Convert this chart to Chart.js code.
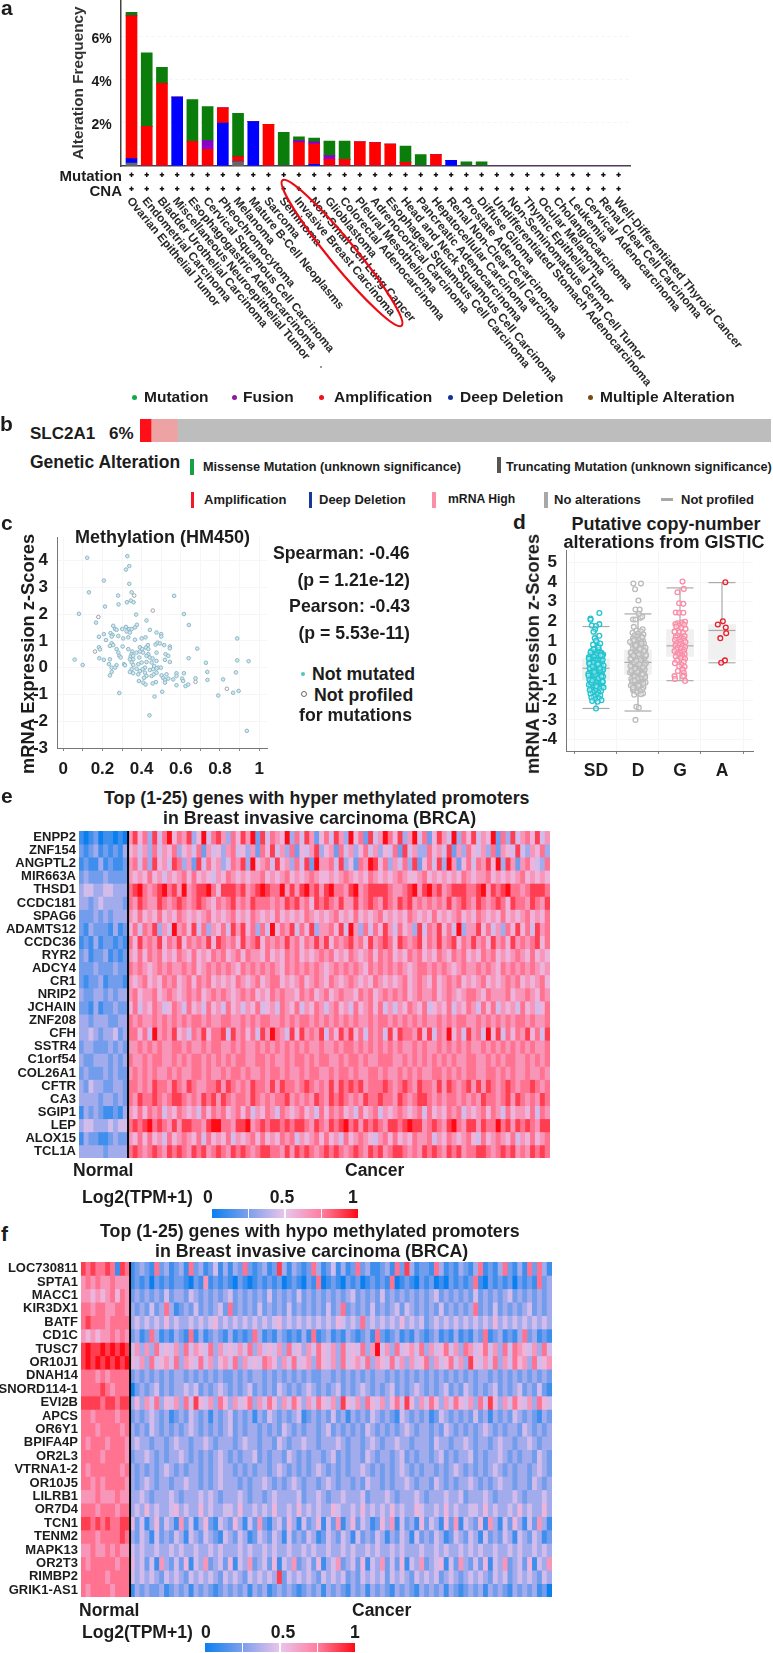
<!DOCTYPE html>
<html><head><meta charset="utf-8">
<script src="https://cdn.jsdelivr.net/npm/chart.js@4"></script>
<style>
html,body{margin:0;padding:0;background:#fff}
#page{position:relative;width:773px;height:1653px;overflow:hidden;font-family:"Liberation Sans",Arial,sans-serif;font-weight:bold;color:#1c1c1c}
canvas{position:absolute}
.t{position:absolute;white-space:nowrap;line-height:1}
.m{position:absolute}
</style></head><body><div id="page"></div>
<script>
// ---------- panel a ----------
const cancerTypes=["Ovarian Epithelial Tumor","Endometrial Carcinoma","Bladder Urothelial Carcinoma","Miscellaneous Neuroepithelial Tumor","Esophagogastric Adenocarcinoma","Cervical Squamous Cell Carcinoma","Pheochromocytoma","Melanoma","Mature B-Cell Neoplasms","Sarcoma","Seminoma","Invasive Breast Carcinoma","Non-Small Cell Lung Cancer","Glioblastoma","Colorectal Adenocarcinoma","Pleural Mesothelioma","Adrenocortical Carcinoma","Esophageal Squamous Cell Carcinoma","Head and Neck Squamous Cell Carcinoma","Pancreatic Adenocarcinoma","Hepatocellular Carcinoma","Renal Non-Clear Cell Carcinoma","Prostate Adenocarcinoma","Diffuse Glioma","Undifferentiated Stomach Adenocarcinoma","Non-Seminomatous Germ Cell Tumor","Thymic Epithelial Tumor","Ocular Melanoma","Cholangiocarcinoma","Leukemia","Cervical Adenocarcinoma","Renal Clear Cell Carcinoma","Well-Differentiated Thyroid Cancer"];
const truncating=[.14,0,0,0,0,0,0,.2,0,0,0,0,0,0,0,0,0,0,0,0,0,0,0,0,0,0,0,0,0,0,0,0,0];
const deepDeletion=[.2,0,0,3.21,0,0,2.0,0,2.06,0,0,0,.08,0,0,0,0,0,0,0,0,.26,0,0,0,0,0,0,0,0,0,0,0];
const amplification=[6.64,1.84,3.84,0,1.15,.78,.7,.23,0,1.94,0,1.09,.94,.31,.31,1.12,1.09,1.02,.17,0,.53,0,0,0,0,0,0,0,0,0,0,0,0];
const fusion=[0,0,0,0,0,.4,0,0,0,0,0,.09,.1,.17,0,0,0,0,0,0,0,0,0,0,0,0,0,0,0,0,0,0,0];
const mutation=[.17,3.42,.75,0,1.94,1.58,0,2.02,0,0,1.57,.18,.18,.68,.85,0,0,0,.76,.53,0,0,.19,.19,0,0,0,0,0,0,0,0,0];
const freqTicks=[2,4,6];
// ---------- panel b ----------
const oncoprintSegments=[1.74,4.2,94.06];
// ---------- panel c ----------
const methX=[.122,.327,.337,.32,.207,.337,.131,.349,.28,.566,.325,.345,.359,.282,.213,.08,.616,.372,.425,.167,.641,.255,.264,.272,.301,.32,.337,.349,.366,.376,.323,.34,.241,.252,.207,.182,.247,.281,.332,.306,.218,.366,.442,.5,.5,.476,.42,.4,.471,.481,.493,.515,.544,.544,.432,.422,.434,.391,.403,.247,.255,.238,.272,.303,.332,.182,.187,.281,.286,.293,.184,.207,.238,.352,.374,.391,.408,.434,.476,.522,.536,.349,.344,.357,.34,.357,.388,.425,.442,.456,.476,.519,.544,.233,.247,.272,.264,.31,.315,.349,.357,.383,.4,.425,.451,.464,.485,.498,.476,.459,.442,.417,.405,.391,.374,.349,.34,.357,.383,.417,.425,.412,.451,.462,.476,.247,.238,.502,.527,.51,.536,.519,.578,.578,.616,.561,.607,.612,.675,.386,.408,.42,.456,.473,.519,.578,.624,.638,.888,.684,.64,.888,.946,.728,.735,.881,.816,.736,.791,.867,.895,.937,.44,.286,.466,.505,.058,.099];
const methY=[4.1,4.16,3.79,3.66,3.25,3.13,2.81,2.81,2.69,2.68,2.44,2.5,2.44,2.36,2.28,2.01,2.0,1.98,1.76,1.68,1.59,1.56,1.44,1.41,1.44,1.52,1.44,1.44,1.5,1.6,1.35,1.31,1.29,1.22,1.25,1.15,1.16,1.18,1.13,1.09,1.03,1.04,1.41,1.25,1.16,1.31,1.13,1.09,.86,.93,.9,.84,.79,.72,.84,.75,.69,.76,.69,.91,.84,.81,.69,.79,.69,.76,.68,.56,.44,.38,.35,.29,.31,.6,.56,.6,.56,.5,.56,.5,.44,.5,.41,.44,.31,.31,.38,.44,.38,.34,.25,.29,.21,.13,0,.09,0,.13,.09,.19,.1,.13,.19,.21,.19,.06,0,0,-.03,-.06,-.09,0,-.06,-.13,-.04,-.06,-.16,-.21,-.25,-.19,-.31,-.38,-.31,-.25,-.19,-.16,-.29,-.29,-.25,-.38,-.41,-.46,-.21,-.31,-.21,-.44,-.41,-.5,-.4,-.5,-.56,-.63,-.59,-.54,-.56,-.66,-.69,-.63,1.09,.71,.35,.27,.24,.18,-.16,-.18,-.44,-.46,-1.04,-.94,-.87,-2.36,-1.78,-.95,-1.08,-.9,.3,.1];
const notProfX=[.362,.457,.179,.162,.675,.835];
const notProfY=[2.69,2.13,1.89,.6,-.53,-.79];
const methXTicks=[0,.1,.2,.3,.4,.5,.6,.7,.8,.9,1];
const methYTicks=[4,3,2,1,0,-1,-2,-3];
// ---------- panel d ----------
const cnaGroups=["SD","D","G","A"];
const boxQ1=[-.97,-.69,.22,.07],boxQ3=[.1,.54,1.59,1.84],boxMedian=[-.38,-.08,.76,1.54],whiskerLow=[-2.42,-2.55,-1.01,-.1],whiskerHigh=[1.74,2.38,3.7,3.97];
const sdOffset=[.08,-.13,-.13,.08,-.1,0,-.02,-.06,.08,-.03,.02,-.07,.05,-.02,.07,-.12,-.04,.04,.13,-.09,0,.1,-.14,-.05,.06,.12,-.11,-.02,.03,.09,-.08,.14,-.13,-.04,.05,.11,-.1,0,.07,-.06,.13,-.12,.02,.09,-.03,-.14,.05,.12,-.08,0,.1,-.11,-.05,.04,.14,-.13,-.01,.08,-.07,.12,-.09,.02,.06,-.12,-.03,.1,-.14,.04,.13,-.06,.01,.08,-.1,.11,-.04,-.13,.05,.14,-.07,0,.09,-.11,-.02,.12,-.08,.06,-.13,.03,.1,-.05,-.11,.07,-.02,.13,-.09,.04,-.06,.06,0,.1,-.13,-.06,.06,0,.13,.17,-.17,.16,-.16,.18,-.15,.15,-.18,.17,-.16,.16,-.17,.18,-.15,.15,-.16,.17,-.18,.16,-.17,.03,-.08,.1,-.01,.06,-.11,.01,.09,-.04,.13,-.09,.05,.11,-.06];
const sdValue=[2.43,2.15,2.08,1.86,1.79,1.77,1.6,1.47,1.27,1.15,.95,.82,.75,.62,.55,.48,.44,.4,.37,.34,.3,.25,.22,.2,.15,.12,.08,.05,.02,0,-.03,-.06,-.08,-.11,-.14,-.17,-.2,-.23,-.26,-.28,-.31,-.34,-.36,-.39,-.42,-.44,-.47,-.5,-.53,-.55,-.58,-.6,-.63,-.65,-.68,-.71,-.73,-.76,-.78,-.81,-.84,-.86,-.89,-.92,-.94,-.97,-.99,-1.02,-1.05,-1.07,-1.1,-1.13,-1.15,-1.18,-1.21,-1.24,-1.27,-1.3,-1.33,-1.37,-1.41,-1.45,-1.5,-1.54,-1.58,-1.62,-1.67,-1.72,-1.76,-1.81,-1.86,-1.9,-1.95,-2.0,-2.04,-2.08,.58,.68,1.02,.88,.42,-.1,-.5,-2.42,.4,.32,.18,.05,-.09,-.24,-.38,-.52,-.66,-.8,-.95,-1.08,-1.22,-1.35,-1.48,.25,-.15,-.45,-.75,-1.05,.1,-.12,-.29,-.47,-.69,-.88,-1.11,-1.29,-.37,-.57,-.79,-1.0,-.18,.28];
const dOffset=[-.11,.07,-.07,.01,-.06,.04,-.12,-.06,.06,.1,.02,-.1,.11,-.04,.07,-.13,0,.13,-.08,.05,-.02,.1,-.12,.03,-.06,.12,-.1,.08,-.03,.14,-.14,.01,.06,-.08,.11,-.05,.03,-.12,.09,0,.13,-.1,.05,-.03,-.14,.08,.12,-.07,.02,-.11,.1,-.04,.14,-.13,.06,0,-.09,.11,.03,-.06,.13,-.12,.07,-.02,.09,-.14,.04,.12,-.08,0,.1,-.11,.05,-.04,.14,-.13,.08,.01,-.07,.12,-.1,.03,.06,-.05,.13,-.12,0,.09,-.08,.11,-.14,.04,-.02,.07,-.1,.13,-.06,.02,.1,-.12,.05,-.03,.12,-.09,.08,-.13,0,.06,-.05,.11,-.11,.03,-.07,.09,.01,-.08,.05,-.1,.07,-.04,.02,-.06,-.1,.08,-.06,.17,-.17,.18,-.16,.19,-.18,.16,-.19,.17,-.16,.18,-.17,.19,-.18,.16,-.16,.17,-.19,.18,-.17,.04,-.09,.12,-.02,.07,-.13,.01,.1,-.05,.14,-.11,.06,.03,-.07,.09,-.01,.13,-.12,.05,-.04,.11,-.08,.02,.08,-.14,.15,-.15,.06,-.03,.1];
const dValue=[3.92,3.92,3.63,3.06,2.6,2.6,2.1,2.1,2.18,2.24,2.38,1.72,1.6,1.54,1.5,1.42,1.38,1.33,1.3,1.26,1.22,1.18,1.14,1.1,1.06,1.02,.98,.95,.92,.88,.85,.82,.78,.75,.72,.68,.65,.62,.58,.55,.52,.48,.45,.42,.38,.35,.32,.28,.25,.22,.18,.15,.12,.08,.05,.02,-.02,-.05,-.08,-.12,-.15,-.18,-.22,-.25,-.28,-.32,-.35,-.38,-.42,-.45,-.48,-.52,-.55,-.58,-.62,-.65,-.68,-.72,-.75,-.78,-.82,-.85,-.88,-.92,-.95,-.98,-1.02,-1.05,-1.08,-1.12,-1.15,-1.18,-1.22,-1.26,-1.3,-1.34,-1.38,-1.42,-1.46,-1.5,-1.55,-1.6,-1.66,-1.72,.7,.4,.1,-.3,-.6,-.9,1.0,.6,.2,-.1,-.5,-.8,-1.2,-1.45,-1.7,-2.33,-2.38,-3.0,1.05,.88,.72,.55,.38,.22,.06,-.11,-.27,-.44,-.6,-.77,-.93,-1.1,-1.26,.3,.1,-.2,-.5,-.85,.95,.66,.43,.17,-.07,-.33,-.56,-.83,-1.03,-1.27,1.2,.8,.5,.27,.03,-.17,-.4,-.64,-.9,-1.16,-1.36,.6,.0,-.7,-1.0,.33];
const gOffset=[.06,.09,-.06,-.02,.08,-.1,-.02,.08,.12,.04,-.06,-.11,.05,.1,-.03,-.09,.03,.13,-.13,-.01,.07,-.06,.11,-.1,.02,.08,-.04,-.12,.09,.01,.13,-.08,.04,-.02,-.11,.06,.12,-.05,.03,-.09,.1,-.13,.07,0,-.06,.11,-.03,.05,-.1,.08,.02,.12,-.07,.09,-.12,.04,-.02,.11,.07,-.05,.09,-.13,.1,.07,-.12,.12];
const gValue=[4.02,3.65,3.48,2.92,2.89,2.45,2.44,2.44,1.98,1.94,1.9,1.87,1.85,1.83,1.78,1.74,1.68,1.62,1.48,1.45,1.42,1.28,1.25,1.2,1.15,1.12,1.08,1.05,1.02,.98,.95,.9,.85,.82,.78,.74,.7,.66,.62,.58,.55,.5,.46,.42,.38,.34,.3,.26,.22,.18,.14,.1,.02,-.05,-.12,-.2,-.28,-.3,-.45,-.52,-.6,-.78,-.75,-.8,-.92,-1.02];
const aOffset=[.08,.02,-.1,.09,.1,-.04,.07,-.02];
const aValue=[3.99,2.01,1.84,1.69,1.4,1.15,.02,-.1];
const dYTicks=[5,4,3,2,1,0,-1,-2,-3,-4];
// ---------- heatmap colour stops (value, r,g,b) ----------
const heatStopValues=[0,.25,.5,.75,1];
const heatStopColors=[[10,128,240],[127,159,236],[232,196,236],[255,127,159],[255,10,20]];
const heatDigitMax=9;
// ---------- panel e ----------
const hyperGenes=["ENPP2","ZNF154","ANGPTL2","MIR663A","THSD1","CCDC181","SPAG6","ADAMTS12","CCDC36","RYR2","ADCY4","CR1","NRIP2","JCHAIN","ZNF208","CFH","SSTR4","C1orf54","COL26A1","CFTR","CA3","SGIP1","LEP","ALOX15","TCL1A"];
const hyperNormal=["1012011010","2123121213","1211312112","2322232222","3443344333","3323433332","2223232333","2132221312","1213122121","2312231212","2223222322","2122312221","3223323233","2213122322","3323332233","3343233423","2332223232","3223332323","2322232322","3243322332","3333233232","1323211213","3443334344","1322112322","3333323333"];
const hyperCancer=[
"6857384795 7683594786 3758692847 6593748625 7486395728 4697583694 7258649375 8465927384 675846",
"5646374657 3564726453 6745362758 4637254683 5627463574 6354728463 3756482637 5463726548 436573",
"6747385648 7362847563 4768395674 8563748296 6748352769 8573647382 5748396257 4768593862 675437",
"6565756465 6757565465 7656566756 5675656765 5656765657 6565676556 7565656576 5667565656 756565",
"7897678978 6967889758 8878678987 7968689786 8977689678 8887667896 8978678887 7896878977 678887",
"7687668767 8767876576 7867687776 7687867587 8768668678 7687687867 6767686787 6876787587 768768",
"6575657565 7656567565 6756576565 7565657656 5675657565 6756565765 6575656756 5765657565 675657",
"5747683649 6758473657 4868573749 5768475836 6758496374 7586475638 4768574936 6857463758 574867",
"7586768576 8576768587 6758678576 7686757686 8576786758 6787587678 5768678576 8675867586 767857",
"6575767565 7657565767 5675766575 6576756567 6756576567 5767565767 5657657675 6576756567 657565",
"7676567676 6767567676 7657676767 6576767676 5676767657 6767676567 7676765676 6767657676 767656",
"6567565767 5675767565 6576567567 7565675676 5765676565 7656567567 6575676756 5675656767 565675",
"6756675676 5676756767 6567675657 6766576756 7567665767 5676767567 6675676567 7657666756 676576",
"5746576457 6475647564 7564657456 4765746576 4675647567 5746465765 7456574657 6475746564 756457",
"7676676767 6767767667 7667676776 6767677676 7676767667 6776767676 7667676776 6767676767 767667",
"7757496768 5647685778 4867574869 7648586768 4758685747 6748587768 5847695748 6749584757 685748",
"6676767667 7676676776 6767667676 7676767667 6676776767 6767676676 7667676767 6676767676 767667",
"7667677667 6767767676 7677667767 6676776767 7667677676 6777667676 7676767667 7667676776 676767",
"6767676676 7667767667 6776766767 7676676776 6767767667 7676676767 6677676767 7667767676 676676",
"7767687768 7687667786 8767687768 6877678767 6868787867 7787678768 7768687678 6868767876 778767",
"7687787678 8767687868 7677687676 7786767687 6878767687 7877687678 8767677676 7687767868 767687",
"6575767465 7656475767 5675746576 4765675647 5767564756 7465676567 4756576746 5675764756 657476",
"7878978768 6887768997 7688967878 8787887687 6878978687 8768878988 6787689768 8687797868 787688",
"6575756475 6765747565 7465675756 5767465675 7564756765 4675756576 6746576567 5475676574 657567",
"7876787687 8768786787 6878767887 7686878767 8787678768 7867887676 8787687867 7887678786 768787"];
// ---------- panel f ----------
const hypoGenes=["LOC730811","SPTA1","MACC1","KIR3DX1","BATF","CD1C","TUSC7","OR10J1","DNAH14","SNORD114-1","EVI2B","APCS","OR6Y1","BPIFA4P","OR2L3","VTRNA1-2","OR10J5","LILRB1","OR7D4","TCN1","TENM2","MAPK13","OR2T3","RIMBP2","GRIK1-AS1"];
const hypoNormal=["8787787187","6767667666","6656567576","7767766776","7877767777","6565667676","8988989898","8989898989","7776767777","7777876777","8888788788","7767777677","7776777767","7677767776","7777677776","7677777767","7767677776","6667666766","7776777677","8878787788","7776777787","6676676766","7677777677","7777767777","7677776777"];
const hypoCancer=[
"1232172312 3172312413 1327212312 8313212731 2413127231 1231728312 2173121321 3712137213 172731",
"1212021212 2102161212 1021012121 2012102170 1210212012 1217012102 1201021212 7102121202 121723",
"2323232423 3243232323 4232323242 3232423232 3232342323 2423232323 2342323232 4232323423 232323",
"3232423731 2324232342 7232324232 3242323232 4237232324 2323424323 2324232323 7232423232 342323",
"3434343534 3343434534 3434343434 5343434343 4354343734 3434353434 2343434343 4343534343 434343",
"2312731213 2171312321 3121273121 3212131712 3121321231 7212312132 1231213121 3271231213 723121",
"4636374546 3746547364 5464736454 6374536475 4637454736 9463745647 3645746376 4574637476 546374",
"5463745647 3654746356 4736454765 3647456375 4637456473 6547463645 7364574638 5464736475 637456",
"2323232323 3232323232 2323233232 3232323223 3232323232 3323232323 2323232323 2332323232 323232",
"0232342323 3434232343 2323423232 4323234323 2342323432 3234232343 2323423243 2323423234 232421",
"3536473546 3748546375 3645736475 3647536475 4638546375 4635748536 4753647546 3748536475 463754",
"2323432312 3243231323 4232313243 2323412323 2423132324 3232143232 3124323232 4231323243 232132",
"3232432323 2343232323 4232332323 2432323323 4232323243 2323234323 3232432323 2343232332 432323",
"3433233234 3323343233 3234332332 4323343323 3343233234 3233433233 3243323343 2332343323 343233",
"2334323233 4323232343 2323342323 3243232332 3423233243 2332342323 3234232334 2323343232 332432",
"3232323432 3233232343 3232323323 4323232343 2323233432 3232343232 3323234323 2323432323 323432",
"3234323323 3433232343 3323233432 3234323323 4323323243 3232334323 3243232334 3232343323 324323",
"3343233343 2333434323 3343233234 3333423343 2334333423 3343233343 2333433423 3343233343 233343",
"3435343345 3433534334 4353343435 3343534343 3543343534 3435343354 3343534334 4353433435 343353",
"5241352431 6241352143 2531426213 4253142351 4261352431 2536142315 2431526143 2516314253 142631",
"3243142324 3143243214 3243124324 3142324312 4324314232 4313243142 3243124324 3142324314 324312",
"4343343343 4334334343 3343433434 3343343433 4334343343 4334343334 3343433434 3433433434 334343",
"5342416324 2514362342 5143623425 1436234251 3462342514 3624251436 2345142632 4251436234 251436",
"4343432434 3243434324 3432434343 8243434324 3434232434 3424343243 4342343234 3432434234 343243",
"1323223123 2313232123 2323132312 3232123231 3232132313 2321323213 2323132123 2313232132 323120"];
const dataLabelsAxis=["Mutation","CNA"];

// ---------- helpers ----------
Chart.defaults.animation=false;
Chart.defaults.responsive=false;
Chart.defaults.font.family='"Liberation Sans",Arial,sans-serif';
Chart.defaults.font.weight='bold';
Chart.defaults.color='#1c1c1c';
Chart.defaults.plugins.legend.display=false;
Chart.defaults.plugins.tooltip.enabled=false;
const page=document.getElementById('page');
function T(s,x,y,size,anchor,rot,color){
  const d=document.createElement('div');d.className='t';d.textContent=s;
  d.style.left=x+'px';d.style.top=y+'px';d.style.fontSize=size+'px';
  if(color)d.style.color=color;
  const tx=anchor==='r'?'-100%':anchor==='c'?'-50%':'0';
  d.style.transform=`translate(${tx},-50%)`+(rot?` rotate(${rot}deg)`:'');
  page.appendChild(d);
}
function M(x,y,w,h,color,round){
  const d=document.createElement('div');d.className='m';
  d.style.cssText+=`left:${x}px;top:${y}px;width:${w}px;height:${h}px;background:${color};`+(round?'border-radius:50%;':'');
  page.appendChild(d);return d;
}
function canvasAt(x,y,w,h){
  const c=document.createElement('canvas');c.width=w;c.height=h;
  c.style.left=x+'px';c.style.top=y+'px';c.style.width=w+'px';c.style.height=h+'px';
  page.appendChild(c);return c.getContext('2d');
}
function noPad(s){s.paddingTop=s.paddingBottom=s.paddingLeft=s.paddingRight=0}
const setW=w=>s=>{s.width=w;noPad(s)};
const setH=h=>s=>{s.height=h;noPad(s)};
const fixedTicks=a=>s=>{s.ticks=a.map(v=>({value:v}))};
function heatColor(v){
  let i=0;while(i<heatStopValues.length-2&&v>heatStopValues[i+1])i++;
  const f=(v-heatStopValues[i])/(heatStopValues[i+1]-heatStopValues[i]);
  const a=heatStopColors[i],b=heatStopColors[i+1];
  return `rgb(${a.map((c,k)=>Math.round(c+(b[k]-c)*f)).join(',')})`;
}

// ---------- panel a chart ----------
(function(){
  const ctx=canvasAt(0,0,773,400);
  const series=[[truncating,'#666666'],[deepDeletion,'#0000ff'],[amplification,'#ff0000'],[fusion,'#8a00c8'],[mutation,'#0a7d0a']];
  const labelsPlugin={id:'aLabels',afterDraw(ch){
    const c=ch.ctx,x=ch.scales.x;
    c.save();
    cancerTypes.forEach((n,i)=>{
      const px=x.getPixelForValue(i);
      c.strokeStyle='#111';c.lineWidth=1.5;
      [174.7,188.7].forEach(y=>{c.beginPath();c.moveTo(px-2.2,y);c.lineTo(px+2.2,y);c.moveTo(px,y-2.2);c.lineTo(px,y+2.2);c.stroke();});
      c.save();c.translate(px-2.5,199);c.rotate(50.2*Math.PI/180);
      c.font='bold 11.75px "Liberation Sans"';c.fillStyle='#2a2a2a';c.textBaseline='middle';c.textAlign='left';
      c.fillText(n,0,0);c.restore();
    });
    c.strokeStyle='#ee0a14';c.lineWidth=2.2;c.beginPath();
    c.ellipse(342,253,94,13,50.7*Math.PI/180,0,2*Math.PI);c.stroke();
    c.restore();
  }};
  new Chart(ctx,{type:'bar',data:{datasets:series.map(s=>({data:s[0].map((v,i)=>({x:i,y:v})),backgroundColor:s[1],barThickness:11,borderWidth:0}))},
    options:{layout:{padding:{right:143,top:0}},scales:{
      x:{type:'linear',offset:false,stacked:true,min:-.71,max:32.75,ticks:{display:false},grid:{display:false},border:{color:'#444',width:1.5},afterFit:setH(400-166)},
      y:{stacked:true,min:0,max:7.72,afterBuildTicks:fixedTicks(freqTicks),afterFit:setW(120.7),
         ticks:{font:{size:14,weight:'bold'},padding:9,labelOffset:2.5,callback:v=>v+'%'},
         grid:{color:'#f4f4f4',drawTicks:false,tickLength:0},border:{color:'#444',width:1.5,dash:[3,3]}}}},
    plugins:[labelsPlugin]});
})();
T('Alteration Frequency',78,83,15.3,'c',-90,'#333');
T('a',1,7,21,'l');
T(dataLabelsAxis[0],122,175,15,'r');
T(dataLabelsAxis[1],122,190,15,'r');
M(320,366,2,2,'#777',true);
[['Mutation',134,144,'#13a84a'],['Fusion',234,243,'#8c1a9c'],['Amplification',321,334,'#f0101a'],['Deep Deletion',450,460,'#12319c'],['Multiple Alteration',590,600,'#7a4a12']].forEach(r=>{
  M(r[1]-2.5,394.5,5,5,r[3],true);T(r[0],r[2],397,15.5,'l');
});

// ---------- panel b chart ----------
(function(){
  const ctx=canvasAt(140,419,631,23);
  const colors=['#ff1018','#eda3a3','#bdbdbd'];
  new Chart(ctx,{type:'bar',data:{labels:['SLC2A1'],datasets:oncoprintSegments.map((v,i)=>({data:[v],backgroundColor:colors[i],barPercentage:1,categoryPercentage:1,borderWidth:0}))},
    options:{indexAxis:'y',scales:{x:{display:false,stacked:true,min:0,max:100},y:{display:false,stacked:true}}}});
})();
T('b',0,423,21,'l');
T('SLC2A1',30,433,17,'l');T('6%',109,433,17,'l');
T('Genetic Alteration',30,463,17.5,'l');
M(190,459,3.5,16,'#18a048');T('Missense Mutation (unknown significance)',203,467,12.7,'l');
M(497,457,3.5,16,'#555');T('Truncating Mutation (unknown significance)',506,467,12.7,'l');
M(190.5,492,3.5,16,'#f5162a');T('Amplification',204,499,13,'l');
M(308.5,492,3.5,16,'#16379c');T('Deep Deletion',319,499,13,'l');
M(432,492,3.5,16,'#fb8fa8');T('mRNA High',448,499,12.2,'l');
M(544,492,3.5,16,'#a8a8a8');T('No alterations',554,499,13,'l');
M(661,498,12,2.5,'#a8a8a8');T('Not profiled',681,499,13,'l');

// ---------- panel c chart ----------
(function(){
  const ctx=canvasAt(0,530,300,250);
  new Chart(ctx,{type:'scatter',data:{datasets:[
    {data:methX.map((x,i)=>({x,y:methY[i]})),backgroundColor:'#d6e8ee',borderColor:'#8ab8c8',borderWidth:1,pointRadius:1.8},
    {data:notProfX.map((x,i)=>({x,y:notProfY[i]})),backgroundColor:'#ffffff',borderColor:'#a0a0a0',borderWidth:1,pointRadius:1.8}]},
    options:{layout:{padding:{top:7,right:33}},scales:{
      x:{min:-.032,max:1.04,afterBuildTicks:fixedTicks(methXTicks),afterFit:setH(250-218),
         ticks:{font:{size:17,weight:'bold'},padding:8,maxRotation:0,minRotation:0,autoSkip:false,callback:(v,i)=>i%2?'':String(v)},
         grid:{color:'#f6f6f6',tickLength:3,tickColor:'#888'},border:{color:'#777',width:1}},
      y:{min:-3,max:4.875,afterBuildTicks:fixedTicks(methYTicks),afterFit:setW(57),
         ticks:{autoSkip:false,font:{size:17,weight:'bold'},padding:9},
         grid:{color:'#f6f6f6',drawTicks:false,tickLength:0},border:{color:'#777',width:1}}}}});
})();
T('c',1,522,21,'l');
T('Methylation (HM450)',75,537,18,'l');
T('mRNA Expression z-Scores',28,654,18.3,'c',-90);
T('Spearman: -0.46',273,554,17.7,'l');
T('(p = 1.21e-12)',410,581,17.7,'r');
T('Pearson: -0.43',410,607,17.7,'r');
T('(p = 5.53e-11)',410,634,17.7,'r');
M(301,672,4,4,'#4fc8b4',true);T('Not mutated',312,675,17.7,'l');
M(301,691,4,4,'#fff',true).style.border='1px solid #666';T('Not profiled',314,696,17.7,'l');
T('for mutations',299,716,17.7,'l');

// ---------- panel d chart ----------
(function(){
  const ctx=canvasAt(520,545,253,235);
  const groups=[[sdOffset,sdValue,'#21c4cf'],[dOffset,dValue,'#bbbbbb'],[gOffset,gValue,'#f98ca6'],[aOffset,aValue,'#e8202a']];
  const ds=[{type:'bar',order:10,data:boxQ1.map((q,i)=>({x:i+1,y:[q,boxQ3[i]]})),backgroundColor:'#f0f0f0',barThickness:27,borderWidth:0,grouped:false}];
  groups.forEach((g,k)=>ds.push({type:'scatter',order:4-k,data:g[0].map((o,i)=>({x:k+1+o,y:g[1][i]})),backgroundColor:'rgba(255,255,255,.35)',borderColor:g[2],borderWidth:1.3,pointRadius:2.4}));
  const whiskers={id:'whiskers',afterDatasetDraw(ch,args){
    if(args.index!==0)return;
    const c=ch.ctx,x=ch.scales.x,y=ch.scales.y;
    c.save();c.strokeStyle='#aaaaaa';c.lineWidth=1.2;
    boxQ1.forEach((q,i)=>{
      const p=x.getPixelForValue(i+1);
      const seg=(a,b,e,f)=>{c.beginPath();c.moveTo(a,b);c.lineTo(e,f);c.stroke();};
      seg(p,y.getPixelForValue(whiskerLow[i]),p,y.getPixelForValue(q));
      seg(p,y.getPixelForValue(boxQ3[i]),p,y.getPixelForValue(whiskerHigh[i]));
      [whiskerLow[i],whiskerHigh[i],boxMedian[i]].forEach(v=>seg(p-13.5,y.getPixelForValue(v),p+13.5,y.getPixelForValue(v)));
    });
    c.restore();
  }};
  new Chart(ctx,{type:'scatter',data:{datasets:ds},plugins:[whiskers],
    options:{layout:{padding:{top:5,right:20}},scales:{
      x:{type:'linear',offset:false,min:.286,max:4.738,afterBuildTicks:fixedTicks([1,2,3,4]),afterFit:setH(235-206),
         ticks:{font:{size:17.5,weight:'bold'},padding:7,maxRotation:0,minRotation:0,autoSkip:false,callback:(v,i)=>cnaGroups[i]},
         grid:{color:'#f6f6f6',tickLength:3,tickColor:'#888'},border:{color:'#777',width:1}},
      y:{min:-4.58,max:5.61,afterBuildTicks:fixedTicks(dYTicks),afterFit:setW(46),
         ticks:{autoSkip:false,font:{size:17,weight:'bold'},padding:9},
         grid:{color:'#f6f6f6',drawTicks:false,tickLength:0},border:{color:'#777',width:1}}}}});
})();
T('d',513,521,21,'l');
T('Putative copy-number',666,524,18,'c');
T('alterations from GISTIC',664,542,18,'c');
T('mRNA Expression z-Scores',533,654,18.3,'c',-90);

// ---------- heatmaps ----------
function heatmap(box,plot,genes,normal,cancer){
  const ctx=canvasAt(box[0],box[1],box[2],box[3]);
  const rows=genes.map((g,r)=>(normal[r]+cancer[r].replace(/ /g,'')).split('').map(Number));
  const cols=rows[0].map((_,i)=>i);
  const nNormal=normal[0].length;
  const sep={id:'sep',afterDatasetsDraw(ch){
    const x=ch.scales.x,c=ch.ctx,p=(x.getPixelForValue(nNormal-1)+x.getPixelForValue(nNormal))/2;
    c.save();c.fillStyle='#000';c.fillRect(p-1,ch.chartArea.top,2,ch.chartArea.bottom-ch.chartArea.top);c.restore();
  }};
  new Chart(ctx,{type:'bar',plugins:[sep],data:{labels:cols,datasets:rows.map((row,r)=>({
      data:row.map(()=>[r,r+1]),backgroundColor:row.map(d=>heatColor(d/heatDigitMax)),borderWidth:0,barPercentage:1,categoryPercentage:1,grouped:false}))},
    options:{layout:{padding:{top:plot[1]-box[1],right:box[0]+box[2]-plot[2]}},scales:{
      x:{ticks:{display:false},grid:{display:false},border:{display:false},afterFit:setH(box[1]+box[3]-plot[3])},
      y:{reverse:true,min:0,max:25,afterBuildTicks:fixedTicks(genes.map((_,i)=>i+.5)),afterFit:setW(plot[0]-box[0]),
         ticks:{autoSkip:false,font:{size:13,weight:'bold'},padding:3,callback:(v,i)=>genes[i]},
         grid:{display:false,drawTicks:false,tickLength:0},border:{display:false}}}}});
}
function colorbar(x,y,w,h){
  const gap=1.2,seg=(w-3*gap)/4;
  for(let i=0;i<4;i++){
    M(x+i*(seg+gap),y,seg,h,`linear-gradient(to right,${heatColor(heatStopValues[i])},${heatColor(heatStopValues[i+1])})`);
  }
}
heatmap([0,825,560,340],[79,831,550,1158],hyperGenes,hyperNormal,hyperCancer);
T('e',1,795,21,'l');
T('Top (1-25) genes with hyper methylated promoters',104,799,17.8,'l');
T('in Breast invasive carcinoma (BRCA)',163,819,17.8,'l');
T('Normal',73,1171,17.5,'l');T('Cancer',345,1171,17.5,'l');
T('Log2(TPM+1)',82,1198,17.6,'l');T('0',208,1198,17.6,'c');T('0.5',282,1198,17.6,'c');T('1',353,1198,17.6,'c');
colorbar(212,1209,146,9);

heatmap([0,1256,560,346],[81,1262,552,1597],hypoGenes,hypoNormal,hypoCancer);
T('f',1,1233,21,'l');
T('Top (1-25) genes with hypo methylated promoters',100,1232,17.8,'l');
T('in Breast invasive carcinoma (BRCA)',155,1252,17.8,'l');
T('Normal',79,1611,17.5,'l');T('Cancer',352,1611,17.5,'l');
T('Log2(TPM+1)',82,1633,17.6,'l');T('0',206,1633,17.6,'c');T('0.5',283,1633,17.6,'c');T('1',355,1633,17.6,'c');
colorbar(205,1643,150,9);
</script></body></html>
